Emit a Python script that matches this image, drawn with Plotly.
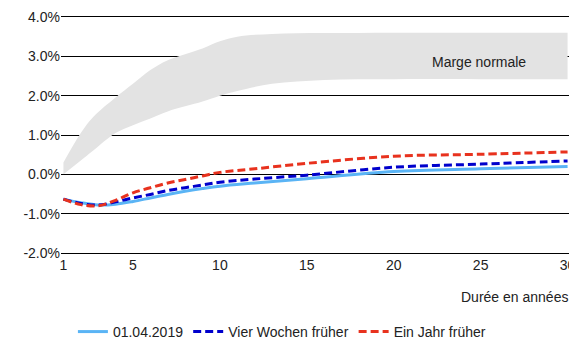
import plotly.graph_objects as go

years = [1, 2, 3, 4, 5, 6, 7, 8, 9, 10, 12, 15, 20, 25, 30]
current = [-0.63, -0.72, -0.78, -0.76, -0.69, -0.60, -0.51, -0.43, -0.36, -0.30, -0.22, -0.11, 0.07, 0.14, 0.20]
four_weeks = [-0.63, -0.74, -0.78, -0.70, -0.60, -0.51, -0.41, -0.34, -0.27, -0.20, -0.12, -0.02, 0.18, 0.26, 0.34]
one_year = [-0.63, -0.77, -0.80, -0.66, -0.47, -0.34, -0.22, -0.13, -0.04, 0.05, 0.14, 0.28, 0.46, 0.51, 0.57]

band_years = [1, 2, 2.7, 4, 5, 6, 7, 9, 10, 11, 13, 16, 20, 25, 30]
band_low = [0.0, 0.35, 0.6, 1.05, 1.25, 1.42, 1.6, 1.85, 2.0, 2.12, 2.3, 2.4, 2.42, 2.42, 2.42]
band_high = [0.3, 1.05, 1.45, 1.95, 2.3, 2.65, 2.9, 3.2, 3.38, 3.5, 3.57, 3.59, 3.6, 3.6, 3.6]

series_names = ["01.04.2019", "Vier Wochen früher", "Ein Jahr früher"]
y_ticks = [-2, -1, 0, 1, 2, 3, 4]
y_tick_labels = ["-2.0%", "-1.0%", "0.0%", "1.0%", "2.0%", "3.0%", "4.0%"]
x_ticks = [1, 5, 10, 15, 20, 25, 30]

fig = go.Figure()
fig.add_trace(go.Scatter(x=band_years, y=band_low, mode="lines", line=dict(width=0, shape="spline"),
                         showlegend=False, hoverinfo="skip"))
fig.add_trace(go.Scatter(x=band_years, y=band_high, mode="lines", line=dict(width=0, shape="spline"),
                         fill="tonexty", fillcolor="#E3E3E3", showlegend=False, hoverinfo="skip"))

fig.add_trace(go.Scatter(x=years, y=current, mode="lines", name=series_names[0],
                         line=dict(color="#5AB4F5", width=3, shape="spline")))
fig.add_trace(go.Scatter(x=years, y=four_weeks, mode="lines", name=series_names[1],
                         line=dict(color="#0000CC", width=3, dash="8px,4px", shape="spline")))
fig.add_trace(go.Scatter(x=years, y=one_year, mode="lines", name=series_names[2],
                         line=dict(color="#E8321E", width=3, dash="8px,4px", shape="spline")))

fig.add_annotation(x=24.9, y=2.85, text="Marge normale", showarrow=False,
                   font=dict(size=14, color="#222222"))
fig.add_annotation(x=1, xref="paper", xanchor="right", y=-0.175, yref="paper", yanchor="middle",
                   text="Durée en années", showarrow=False, font=dict(size=14, color="#222222"))

fig.update_layout(
    width=569, height=334,
    margin=dict(l=53, r=7, t=7, b=87),
    paper_bgcolor="white", plot_bgcolor="white",
    font=dict(family="Liberation Sans, Arial, sans-serif", size=14, color="#222222"),
    xaxis=dict(range=[0.86, 30.14], tickvals=x_ticks, showgrid=False, zeroline=False,
               showline=False, ticks="", tickfont=dict(size=14), automargin=False),
    yaxis=dict(range=[-2.05, 4.05], tickvals=y_ticks, ticktext=y_tick_labels,
               showgrid=True, gridcolor="#000000", gridwidth=1, zeroline=False,
               showline=False, ticks="", tickfont=dict(size=14), automargin=False),
    legend=dict(orientation="h", x=0.434, xanchor="center", xref="paper",
                y=0.03, yanchor="middle", yref="container",
                font=dict(size=14), traceorder="normal"),
    showlegend=True,
)

fig.write_html("out.html")
